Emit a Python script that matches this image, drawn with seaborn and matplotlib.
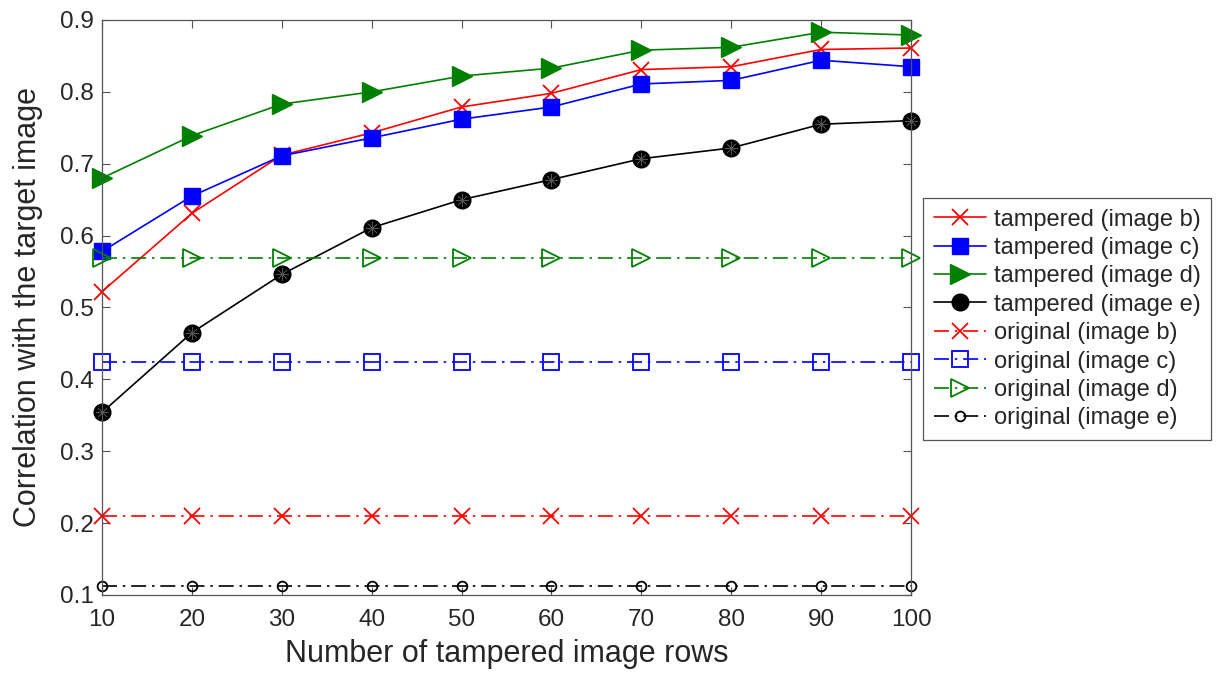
import numpy as np
import pandas as pd
import matplotlib
matplotlib.use("Agg")
import matplotlib.pyplot as plt
import seaborn as sns

# ---- data ----
rows = [10, 20, 30, 40, 50, 60, 70, 80, 90, 100]
tampered_b = [0.522, 0.631, 0.712, 0.743, 0.779, 0.798, 0.831, 0.835, 0.859, 0.861]
tampered_c = [0.578, 0.655, 0.711, 0.736, 0.762, 0.779, 0.811, 0.816, 0.844, 0.835]
tampered_d = [0.680, 0.739, 0.783, 0.800, 0.822, 0.833, 0.858, 0.862, 0.883, 0.879]
tampered_e = [0.354, 0.465, 0.546, 0.611, 0.650, 0.678, 0.707, 0.722, 0.755, 0.760]
original_b = [0.210] * 10
original_c = [0.424] * 10
original_d = [0.569] * 10
original_e = [0.112] * 10

labels = ["tampered (image b)", "tampered (image c)", "tampered (image d)", "tampered (image e)",
          "original (image b)", "original (image c)", "original (image d)", "original (image e)"]
values = [tampered_b, tampered_c, tampered_d, tampered_e,
          original_b, original_c, original_d, original_e]

df = pd.concat([pd.DataFrame({"rows": rows, "corr": v, "series": l}) for l, v in zip(labels, values)],
               ignore_index=True)

# ---- style ----
sns.set_theme(style="ticks")
plt.rcParams["font.family"] = ["Liberation Sans", "DejaVu Sans"]
axcol = "#262626"
plt.rcParams.update({
    "axes.edgecolor": "#555555",
    "xtick.color": "#555555",
    "ytick.color": "#555555",
    "xtick.labelcolor": axcol,
    "ytick.labelcolor": axcol,
    "axes.labelcolor": axcol,
})

fig = plt.figure(figsize=(12.17, 6.73), dpi=100)
ax = fig.add_axes([0.0838, 0.1159, 0.7486 - 0.0838, 0.9703 - 0.1159])

red, blue, green, black = "#ff0000", "#0000ff", "#008000", "#000000"
dashdot = (0, (9, 3.5, 1.5, 3.5))
lw = 1.2

styles = {
    "tampered (image b)": dict(color=red, marker="x", markersize=12, mew=1.3, linestyle="-", mfc=red, mec=red),
    "tampered (image c)": dict(color=blue, marker="s", markersize=11, mew=1.0, linestyle="-", mfc=blue, mec=blue),
    "tampered (image d)": dict(color=green, marker=">", markersize=14, mew=1.0, linestyle="-", mfc=green, mec=green),
    "tampered (image e)": dict(color=black, marker="o", markersize=12, mew=1.0, linestyle="-", mfc=black, mec=black),
    "original (image b)": dict(color=red, marker="x", markersize=12, mew=1.3, linestyle=dashdot, mfc=red, mec=red),
    "original (image c)": dict(color=blue, marker="s", markersize=11, mew=1.3, linestyle=dashdot, mfc="none", mec=blue),
    "original (image d)": dict(color=green, marker=">", markersize=13, mew=1.3, linestyle=dashdot, mfc="none", mec=green),
    "original (image e)": dict(color=black, marker="o", markersize=7, mew=1.3, linestyle=dashdot, mfc="none", mec=black),
}

for lab in labels:
    st = styles[lab]
    sub = df[df["series"] == lab]
    sns.lineplot(data=sub, x="rows", y="corr", ax=ax, label=lab, linewidth=lw,
                 color=st["color"], marker=st["marker"], markersize=st["markersize"],
                 markeredgewidth=st["mew"], markerfacecolor=st["mfc"], markeredgecolor=st["mec"],
                 linestyle=st["linestyle"], errorbar=None, legend=True)

# gray asterisk detail inside black filled circles
sub_e = df[df["series"] == "tampered (image e)"]
sns.lineplot(data=sub_e, x="rows", y="corr", ax=ax, linewidth=0, marker=(8, 2, 0),
             markersize=9, markeredgewidth=0.5, markeredgecolor="#555555", color="#555555",
             errorbar=None, legend=False, label="_nolegend_")

for ln in ax.lines:
    ln.set_clip_on(False)

ax.set_xlim(10, 100)
ax.set_ylim(0.1, 0.9)
ax.set_xticks(rows)
ax.set_yticks(np.round(np.arange(0.1, 0.91, 0.1), 1))
ax.set_yticklabels([f"{t:.1f}" for t in np.arange(0.1, 0.91, 0.1)])
ax.tick_params(direction="in", length=6, width=0.8, labelsize=17.5, top=True, right=True)
ax.tick_params(axis="x", pad=10)
ax.tick_params(axis="y", pad=6)
for sp in ax.spines.values():
    sp.set_visible(True)
    sp.set_linewidth(0.9)
ax.set_xlabel("Number of tampered image rows", fontsize=22, labelpad=6)
ax.set_ylabel("Correlation with the target image", fontsize=22, labelpad=12)

h, l = ax.get_legend_handles_labels()
ax.get_legend().remove()
leg = fig.legend(h, l, loc="upper left", bbox_to_anchor=(923 / 1217, 1 - 198 / 673),
                 fontsize=17, frameon=True, fancybox=False, framealpha=1, edgecolor="#555555",
                 handlelength=2.2, handletextpad=0.35, labelspacing=0.27, borderpad=0.45,
                 borderaxespad=0)
leg.get_frame().set_linewidth(0.9)

fig.savefig("out.png", dpi=100)
